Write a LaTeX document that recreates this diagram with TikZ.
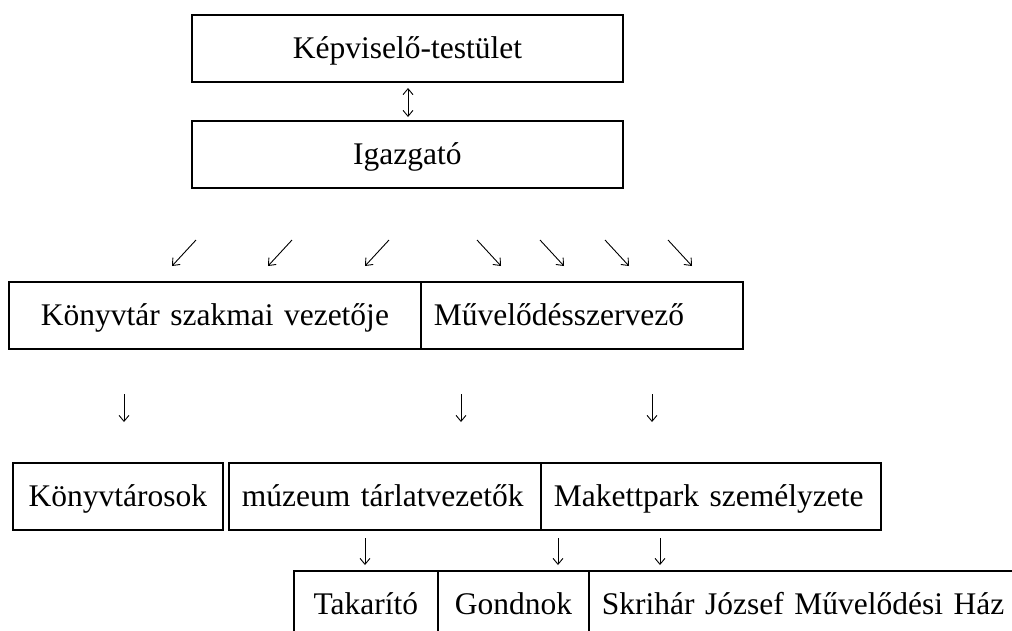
\documentclass[tikz,border=0pt]{standalone}
\usepackage{fontspec}
\setmainfont{Liberation Serif}
\usetikzlibrary{arrows.meta}
\begin{document}
\begin{tikzpicture}[x=1pt,y=-1pt,
  box/.style={draw=black, line width=1.8pt, inner ysep=0pt, anchor=north west,
    minimum height=67pt, text height=28pt, text depth=7pt,
    font=\fontsize{31.5}{36}\selectfont},
  cbox/.style={box, inner xsep=0pt, align=center},
  lbox/.style={box, inner xsep=13pt, align=left},
  garrow/.style={line width=0.9pt, -{Straight Barb[length=6pt,width=10pt]}},
  gbiarrow/.style={line width=0.9pt, {Straight Barb[length=6pt,width=10pt]}-{Straight Barb[length=6pt,width=10pt]}}
]
\useasboundingbox (0,0) rectangle (1012,630);
\clip (0,0) rectangle (1012,630);

% top
\node[cbox, text width=431pt] (kt) at (191,14) {Képviselő-testület};
\node[cbox, text width=431pt] (ig) at (191,120) {Igazgató};

% middle row
\node[cbox, text width=412pt] (ksv) at (8,281) {Könyvtár szakmai vezetője};
\node[lbox, text width=296pt] (msz) at (420,281) {Művelődésszervező};

% third row
\node[cbox, text width=210pt] (kk) at (12,462) {Könyvtárosok};
\node[lbox, text width=286pt] (mt) at (228,462) {múzeum tárlatvezetők};
\node[lbox, text width=314pt] (mp) at (540,462) {Makettpark személyzete};

% bottom row
\node[cbox, text width=144pt] (tak) at (293,570) {Takarító};
\node[cbox, text width=151pt] (gon) at (437,570) {Gondnok};
\node[lbox, text width=430pt] (skh) at (588,570) {Skrihár József Művelődési Ház};

% double arrow
\coordinate (u1) at (408,88);
\coordinate (u2) at (408,117);
\draw[gbiarrow] (u1) -- (u2);

% diagonal arrows
\coordinate (sw1a) at (196,240); \coordinate (sw1b) at (172,266);
\coordinate (sw2a) at (292,240); \coordinate (sw2b) at (268,266);
\coordinate (sw3a) at (389,240); \coordinate (sw3b) at (365,266);
\coordinate (se1a) at (477,240); \coordinate (se1b) at (501,266);
\coordinate (se2a) at (540,240); \coordinate (se2b) at (564,266);
\coordinate (se3a) at (605,240); \coordinate (se3b) at (629,266);
\coordinate (se4a) at (668,240); \coordinate (se4b) at (692,266);
\draw[garrow] (sw1a) -- (sw1b);
\draw[garrow] (sw2a) -- (sw2b);
\draw[garrow] (sw3a) -- (sw3b);
\draw[garrow] (se1a) -- (se1b);
\draw[garrow] (se2a) -- (se2b);
\draw[garrow] (se3a) -- (se3b);
\draw[garrow] (se4a) -- (se4b);

% down arrows row 3
\coordinate (da1) at (124,394); \coordinate (db1) at (124,422);
\coordinate (da2) at (461,394); \coordinate (db2) at (461,422);
\coordinate (da3) at (652,394); \coordinate (db3) at (652,422);
\draw[garrow] (da1) -- (db1);
\draw[garrow] (da2) -- (db2);
\draw[garrow] (da3) -- (db3);

% down arrows row 4
\coordinate (ea1) at (365,538); \coordinate (eb1) at (365,565);
\coordinate (ea2) at (558,538); \coordinate (eb2) at (558,565);
\coordinate (ea3) at (660,538); \coordinate (eb3) at (660,565);
\draw[garrow] (ea1) -- (eb1);
\draw[garrow] (ea2) -- (eb2);
\draw[garrow] (ea3) -- (eb3);
\end{tikzpicture}
\end{document}
